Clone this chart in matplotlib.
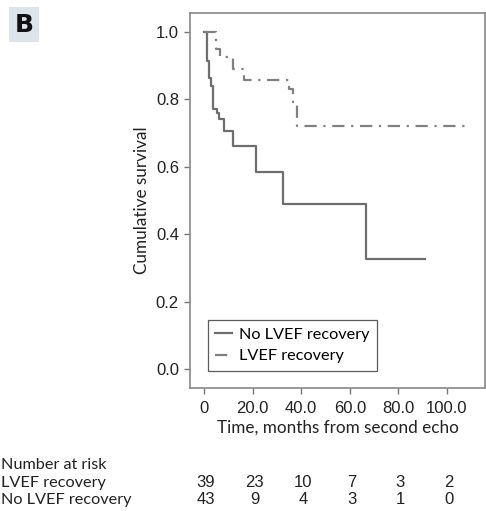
import numpy as np
import matplotlib
matplotlib.use('Agg')
import matplotlib.pyplot as plt

plt.rcParams['font.family'] = ['Liberation Sans', 'DejaVu Sans']

# Kaplan-Meier steps
times_no = [0, 1.1, 1.9, 2.7, 3.8, 5.4, 6.3, 8.2, 11.8, 21.4, 32.3, 66.5, 91.1]
surv_no = [1.0, 0.912, 0.863, 0.84, 0.77, 0.759, 0.741, 0.707, 0.66, 0.585, 0.489, 0.326, 0.326]

times_rec = [0, 4.9, 6.6, 11.8, 16.6, 35.0, 36.8, 38.2, 108.5]
surv_rec = [1.0, 0.949, 0.925, 0.889, 0.856, 0.83, 0.793, 0.721, 0.721]

# Number at risk table
risk_times = [0, 20, 40, 60, 80, 100]
risk_rec = [39, 23, 10, 7, 3, 2]
risk_no = [43, 9, 4, 3, 1, 0]

xticks = [0, 20, 40, 60, 80, 100]
xtick_labels = ['0', '20.0', '40.0', '60.0', '80.0', '100.0']
yticks = [0.0, 0.2, 0.4, 0.6, 0.8, 1.0]

num_font = ['Liberation Sans', 'DejaVu Sans']
label_font = ['Lato', 'DejaVu Sans']
txt_col = '#222222'
lab_size = 11.7

fig = plt.figure(figsize=(4.86, 5.11), dpi=100)
ax = fig.add_axes([0.391, 0.2407, 0.607, 0.734])

ax.step(times_no, surv_no, where='post', color='#6e6e6e', lw=1.6,
        label='No LVEF recovery')
ax.step(times_rec, surv_rec, where='post', color='#808080', lw=1.6,
        linestyle=(0, (5.5, 3, 1, 3)), label='LVEF recovery')

ax.set_xlim(-5.8, 115.7)
ax.set_ylim(-0.056, 1.056)
ax.set_xticks(xticks)
ax.set_xticklabels(xtick_labels)
ax.set_yticks(yticks)
ax.set_yticklabels(['%.1f' % v for v in yticks])
ax.tick_params(labelsize=12, length=4, width=1.0, color='#777777',
               labelcolor=txt_col)
ax.tick_params(axis='x', pad=5)
ax.tick_params(axis='y', pad=4)
for lbl in ax.get_xticklabels() + ax.get_yticklabels():
    lbl.set_fontfamily(num_font)
for s in ax.spines.values():
    s.set_color('#888888')
    s.set_linewidth(1.2)

ax.set_xlabel('Time, months from second echo', fontsize=12.3, color=txt_col,
              labelpad=3, family=label_font)
ax.set_ylabel('Cumulative survival', fontsize=12.3, color=txt_col, labelpad=4,
              family=label_font)

leg = ax.legend(loc='lower left', bbox_to_anchor=(0.061, 0.046),
                borderaxespad=0, prop={'family': label_font, 'size': lab_size},
                frameon=True, fancybox=False, handlelength=1.0,
                handletextpad=0.45, borderpad=0.45, labelspacing=0.45)
leg.get_frame().set_edgecolor('#333333')
leg.get_frame().set_linewidth(0.9)

# Number at risk rows
fig.text(0.002, 1 - 465 / 511, 'Number at risk', fontsize=lab_size, color=txt_col,
         va='center', ha='left', family=label_font)
rows = [('LVEF recovery', risk_rec, 482.5), ('No LVEF recovery', risk_no, 500)]
trans = matplotlib.transforms.blended_transform_factory(ax.transData, fig.transFigure)
for name, vals, py in rows:
    fig.text(0.002, 1 - py / 511, name, fontsize=lab_size, color=txt_col,
             va='center', ha='left', family=label_font)
    for t, v in zip(risk_times, vals):
        ax.text(t + 0.8, 1 - py / 511, str(v), transform=trans, fontsize=12,
                color=txt_col, va='center', ha='center', clip_on=False,
                family=num_font)

# panel letter
fig.text(0.049, 1 - 24.5 / 511, 'B', fontsize=18, fontweight='bold', color='#111111',
         ha='center', va='center', family=['DejaVu Sans'],
         bbox=dict(boxstyle='square,pad=0.22', fc='#dde3ea', ec='none'))

fig.savefig('out.png', dpi=100)
